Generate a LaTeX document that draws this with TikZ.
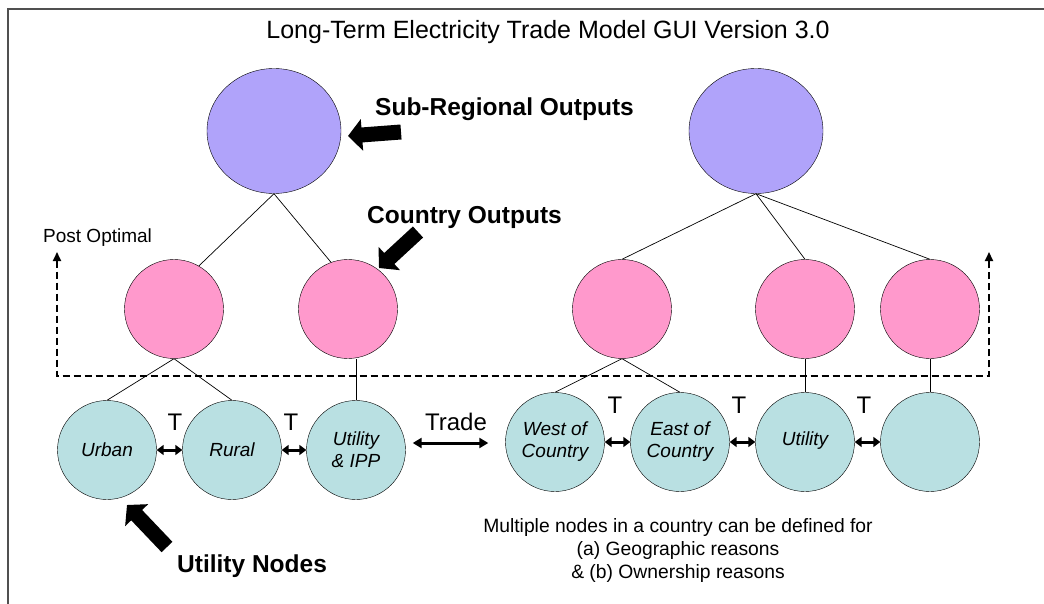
\documentclass[tikz,border=0pt]{standalone}
\usepackage{fontspec}
\setmainfont{Liberation Sans}
\usepackage{xcolor}
\usepackage{tikz}
\usetikzlibrary{arrows.meta, shapes.geometric}

\definecolor{subregcol}{RGB}{176,163,250}
\definecolor{countrycol}{RGB}{255,153,204}
\definecolor{utilcol}{RGB}{185,224,226}
\definecolor{framecol}{RGB}{80,80,80}

\begin{document}
\begin{tikzpicture}[x=1pt, y=-1pt,
  subregion/.style={draw, fill=subregcol, ellipse, minimum width=134pt, minimum height=125pt, inner sep=0pt},
  countrynode/.style={draw, fill=countrycol, circle, minimum size=99pt, inner sep=0pt},
  utilnode/.style={draw, fill=utilcol, circle, minimum size=99pt, inner sep=0pt, align=center, font=\fontsize{19}{22}\selectfont\itshape},
  link/.style={line width=0.7pt},
  callout/.style={line width=15pt, -{Triangle[length=14pt, width=31pt]}},
  tlink/.style={line width=3pt, {Triangle[length=7pt, width=10pt]}-{Triangle[length=7pt, width=10pt]}},
  postopt/.style={line width=1.8pt, dash pattern=on 7pt off 4pt, {Triangle[length=9pt, width=8pt]}-{Triangle[length=9pt, width=8pt]}},
  boldlabel/.style={font=\fontsize{24.5}{28}\selectfont\bfseries, anchor=base west, inner sep=0pt},
  tlabel/.style={font=\fontsize{24}{28}\selectfont, anchor=base, inner sep=0pt}
]
\useasboundingbox (0,0) rectangle (1044,604);
\draw[framecol, line width=2pt] (8,604) -- (8,9) -- (1044,9);

\node[font=\fontsize{25}{30}\selectfont, anchor=base, inner sep=0pt] (title) at (548,39) {Long-Term Electricity Trade Model GUI Version 3.0};

\node[subregion] (s1) at (274,131) {};
\node[subregion] (s2) at (756,131) {};

\node[countrynode] (p1) at (174,309) {};
\node[countrynode] (p2) at (348,309) {};
\node[countrynode] (p3) at (622,309) {};
\node[countrynode] (p4) at (805,309) {};
\node[countrynode] (p5) at (930,309) {};

\node[utilnode] (t1) at (107,450) {Urban};
\node[utilnode] (t2) at (232,450) {Rural};
\node[utilnode] (t3) at (356,450) {Utility\\\& IPP};
\node[utilnode] (t4) at (555,442) {West of\\Country};
\node[utilnode] (t5) at (680,442) {East of\\Country};
\node[utilnode] (t6) at (805,442) {\raisebox{7pt}{Utility}};
\node[utilnode] (t7) at (930,442) {};

\draw[link] (s1.south) -- (p1.60);
\draw[link] (s1.south) -- (p2.110);
\draw[link] (s2.south) -- (p3.north);
\draw[link] (s2.south) -- (p4.north);
\draw[link] (s2.south) -- (p5.north);
\draw[link] (p1.south) -- (t1.north);
\draw[link] (p1.south) -- (t2.north);
\draw[link] (t3.north) -- (t3.north |- p2.south);
\draw[link] (p3.south) -- (t4.north);
\draw[link] (p3.south) -- (t5.north);
\draw[link] (p4.south) -- (t6.north);
\draw[link] (p5.south) -- (t7.north);

\draw[tlink] (t1) -- (t2);
\draw[tlink] (t2) -- (t3);
\draw[tlink] (t4) -- (t5);
\draw[tlink] (t5) -- (t6);
\draw[tlink] (t6) -- (t7);
\node[tlabel] (tl1) at (175,430) {T};
\node[tlabel] (tl2) at (291,430) {T};
\node[tlabel] (tl3) at (615,413) {T};
\node[tlabel] (tl4) at (739,413) {T};
\node[tlabel] (tl5) at (864,413) {T};

\draw[tlink, {Triangle[length=9pt, width=10pt]}-{Triangle[length=9pt, width=10pt]}] ([xshift=7pt, yshift=7pt]t3.east) -- ([xshift=-17pt, yshift=-1pt]t4.west);
\node[tlabel] (trade) at (456,430) {Trade};

\coordinate (po1) at (57,252);
\coordinate (dl) at (57,376);
\coordinate (dr) at (989,376);
\coordinate (po2) at (989,252);
\draw[postopt] (po1) -- (dl) -- (dr) -- (po2);
\node[font=\fontsize{19}{22}\selectfont, anchor=base west, inner sep=0pt] (postlbl) at (43,242) {Post Optimal};

\node[boldlabel] (srlbl) at (375,116) {Sub-Regional Outputs};
\node[boldlabel] (colbl) at (367,223) {Country Outputs};
\node[boldlabel] (utlbl) at (177,572) {Utility Nodes};
\coordinate (srtail) at (401,132);
\coordinate (srtip) at (348,136);
\coordinate (cotail) at (418,232);
\coordinate (cotip) at (379,268);
\coordinate (uttail) at (167,547);
\coordinate (uttip) at (127,505);
\draw[callout] (srtail) -- (srtip);
\draw[callout] (cotail) -- (cotip);
\draw[callout] (uttail) -- (uttip);

\node[font=\fontsize{19.3}{23}\selectfont, align=center, inner sep=0pt] (note) at (678,551) {Multiple nodes in a country can be defined for\\(a) Geographic reasons\\\& (b) Ownership reasons};
\end{tikzpicture}
\end{document}
